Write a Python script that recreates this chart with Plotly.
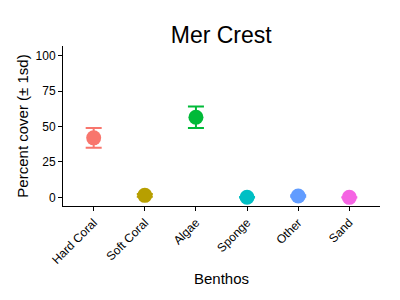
import plotly.graph_objects as go

categories = ["Hard Coral", "Soft Coral", "Algae", "Sponge", "Other", "Sand"]
means = [42, 1.5, 56.5, 0.2, 1.0, 0.1]
sds = [7, 1.0, 7.6, 0.2, 0.5, 0.1]
colors = ["#F8766D", "#B79F00", "#00BA38", "#00BFC4", "#619CFF", "#F564E3"]
yticks = [0, 25, 50, 75, 100]

fig = go.Figure()
for i, (c, m, s, col) in enumerate(zip(categories, means, sds, colors)):
    fig.add_trace(go.Scatter(
        x=[i + 1], y=[m], mode="markers",
        marker=dict(color=col, size=15),
        error_y=dict(type="data", array=[s], color=col, thickness=2, width=8),
        showlegend=False,
    ))

fig.update_layout(
    width=400, height=300,
    margin=dict(l=63, r=20, t=46, b=94),
    paper_bgcolor="white", plot_bgcolor="white",
    font=dict(family="Liberation Sans, Arial, sans-serif", color="black"),
    title=dict(text="Mer Crest", x=0.553, xanchor="center", y=0.885, yanchor="middle",
               font=dict(size=23, color="black")),
)
fig.update_xaxes(
    range=[0.4, 6.6], tickvals=list(range(1, 7)), ticktext=categories,
    tickangle=-45, ticks="outside", ticklen=4, tickcolor="black",
    showline=True, linecolor="black", linewidth=1, showgrid=False, zeroline=False,
    tickfont=dict(size=12, color="black"),
    title=dict(text="Benthos", font=dict(size=15, color="black"), standoff=7),
)
fig.update_yaxes(
    range=[-6, 106.7], tickvals=yticks, ticks="outside", ticklen=4, tickcolor="black",
    showline=True, linecolor="black", linewidth=1, showgrid=False, zeroline=False,
    tickfont=dict(size=12, color="black"),
    title=dict(text="Percent cover (± 1sd)", font=dict(size=15, color="black"), standoff=3),
)
fig.write_html("out.html")
